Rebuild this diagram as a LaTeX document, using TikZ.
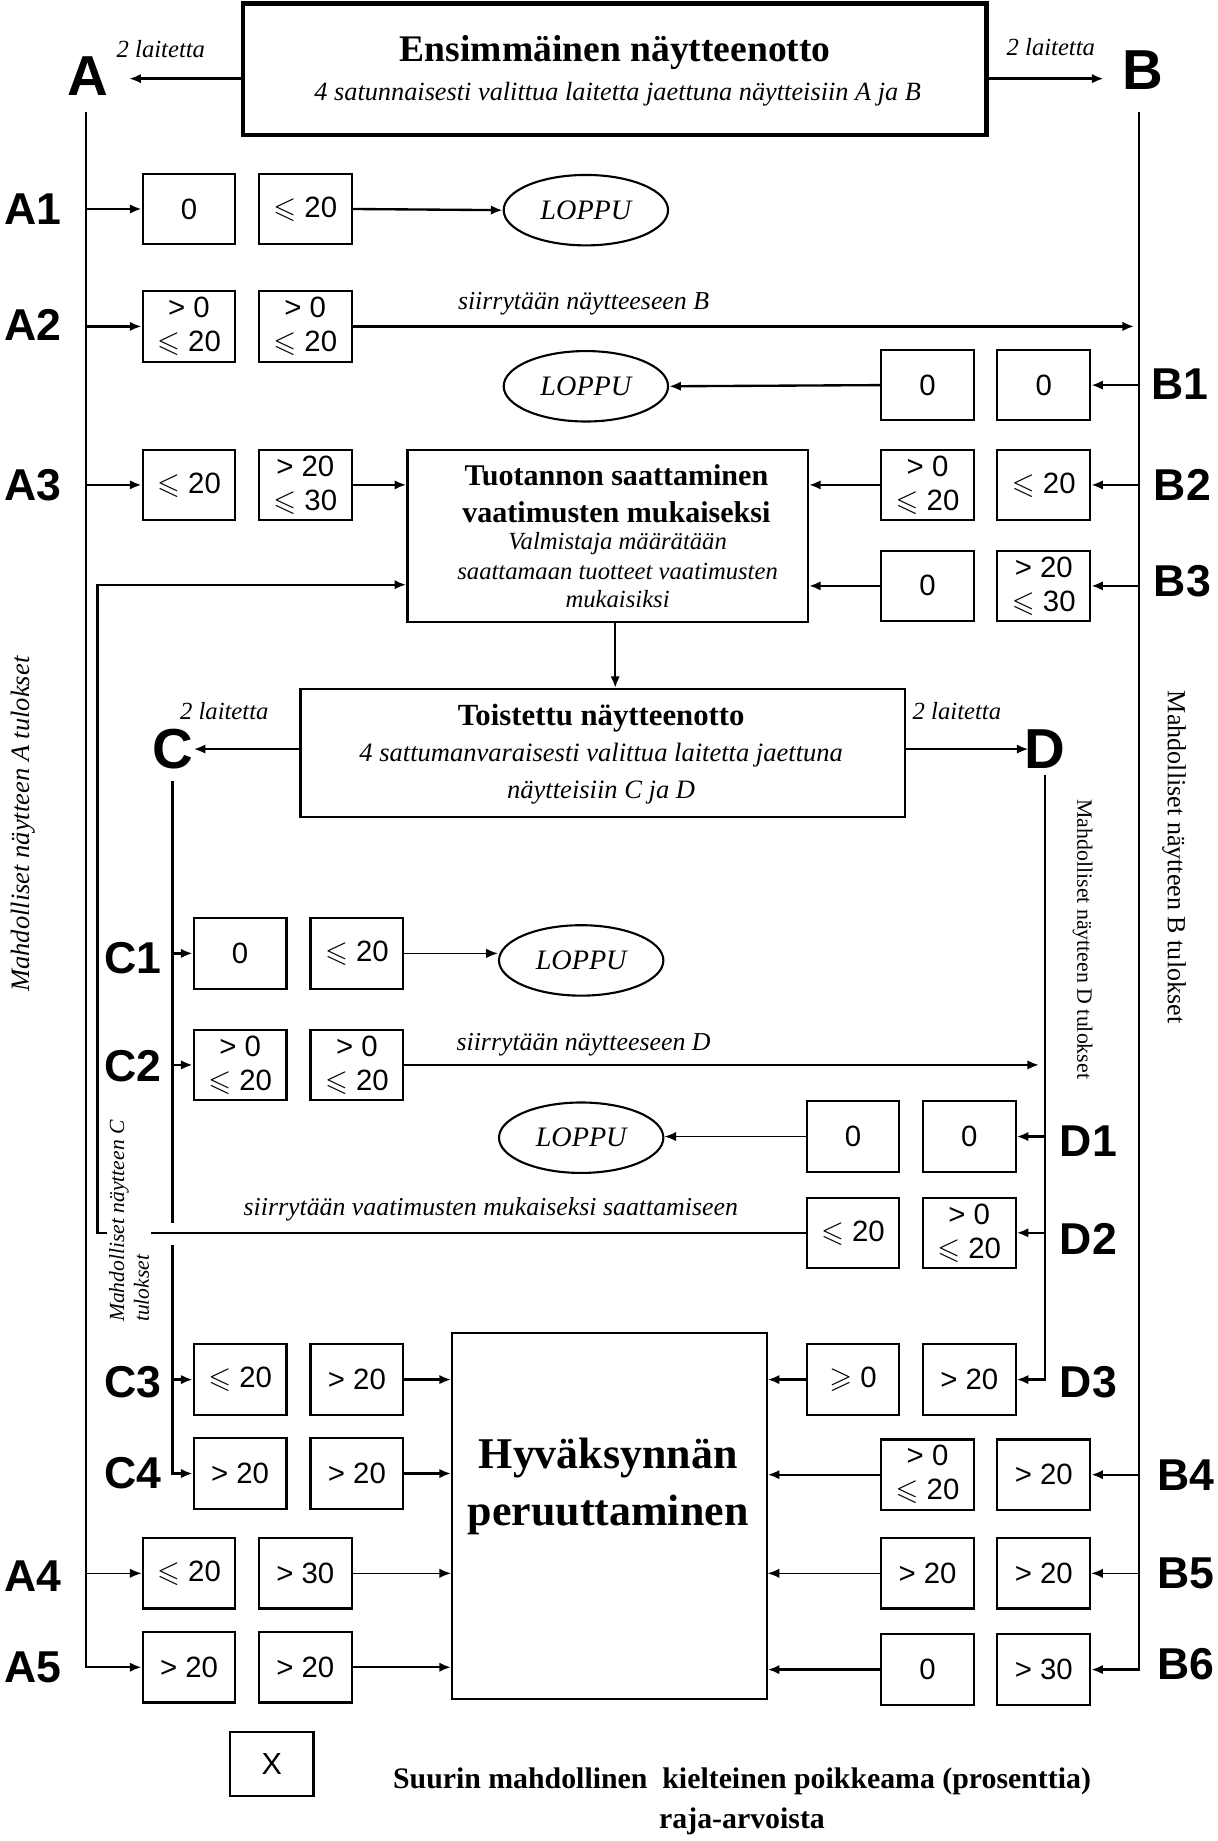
\documentclass[tikz,border=0pt]{standalone}
\usepackage{amssymb}
\usepackage{fontspec}
\setmainfont{Liberation Serif}
\newfontfamily\arialf{Liberation Sans}
\usetikzlibrary{arrows.meta,shapes.geometric}
\newcommand\myfs[1]{\fontsize{#1}{#1}\selectfont}
\newcommand\LEs{$\leqslant$}
\newcommand\GEs{$\geqslant$}
\tikzset{
 val/.style={draw, line width=0.9pt, minimum width=39.5pt, minimum height=30pt, inner sep=0pt, align=center, font=\arialf\fontsize{12.5}{14.5}\selectfont},
 rowlbl/.style={font=\arialf\bfseries\myfs{19}, inner sep=0pt},
 biglbl/.style={font=\arialf\bfseries\myfs{24}, inner sep=0pt},
 arr/.style={-{Latex[length=5pt,width=4pt]}, line width=1pt},
 thinarr/.style={-{Latex[length=5pt,width=4pt]}, line width=0.6pt},
 ln/.style={line width=1pt},
 loppu/.style={draw, ellipse, line width=0.9pt, minimum width=70pt, minimum height=30pt, inner sep=0pt, font=\itshape\myfs{12}},
 lait/.style={font=\itshape\myfs{10.5}, inner sep=0pt},
 movelbl/.style={font=\itshape\myfs{11}, inner sep=0pt},
 bigbox/.style={draw, line width=1pt, inner sep=0pt},
 txt/.style={inner sep=0pt},
}
\begin{document}
\begin{tikzpicture}[x=0.5pt,y=-0.5pt]
\useasboundingbox (0,0) rectangle (1037,1568);

% ---------- top box ----------
\node[bigbox, line width=2pt, minimum width=316.5pt, minimum height=56pt] (top) at (523.5,59) {};
\node[txt, font=\bfseries\myfs{16}] (toptitle) at (524,45) {Ensimmäinen näytteenotto};
\node[txt, font=\itshape\myfs{11.2}] (topsub) at (526,80) {4 satunnaisesti valittua laitetta jaettuna näytteisiin A ja B};
\node[biglbl] (A) at (75,65) {A};
\node[biglbl] (B) at (973,60) {B};
\node[lait] (laitA) at (137,42) {2 laitetta};
\node[lait] (laitB) at (895,40) {2 laitetta};
\coordinate (Aarr) at (110,67);
\coordinate (Barr) at (940,67);
\draw[arr] (top.west |- Aarr) -- (Aarr);
\draw[arr] (top.east |- Barr) -- (Barr);

% ---------- main vertical lines ----------
\coordinate (Atop) at (73,95);
\coordinate (Btop) at (970,95);

% ---------- A rows ----------
\node[val] (a1l) at (161,178) {0};
\node[val] (a1r) at (260,178) {\LEs{} 20};
\node[val] (a2l) at (161,278) {> 0\\\LEs{} 20};
\node[val] (a2r) at (260,278) {> 0\\\LEs{} 20};
\node[val] (a3l) at (161,413) {\LEs{} 20};
\node[val] (a3r) at (260,413) {> 20\\\LEs{} 30};
\node[val] (a4l) at (161,1340) {\LEs{} 20};
\node[val] (a4r) at (260,1340) {> 30};
\node[val] (a5l) at (161,1420) {> 20};
\node[val] (a5r) at (260,1420) {> 20};

% ---------- B rows ----------
\node[val] (b1l) at (790,328) {0};
\node[val] (b1r) at (889,328) {0};
\node[val] (b2l) at (790,413) {> 0\\\LEs{} 20};
\node[val] (b2r) at (889,413) {\LEs{} 20};
\node[val] (b3l) at (790,499) {0};
\node[val] (b3r) at (889,499) {> 20\\\LEs{} 30};
\node[val] (b4l) at (790,1256) {> 0\\\LEs{} 20};
\node[val] (b4r) at (889,1256) {> 20};
\node[val] (b5l) at (790,1340) {> 20};
\node[val] (b5r) at (889,1340) {> 20};
\node[val] (b6l) at (790,1422) {0};
\node[val] (b6r) at (889,1422) {> 30};

% ---------- C rows ----------
\node[val] (c1l) at (204.5,812) {0};
\node[val] (c1r) at (304,812) {\LEs{} 20};
\node[val] (c2l) at (204.5,907) {> 0\\\LEs{} 20};
\node[val] (c2r) at (304,907) {> 0\\\LEs{} 20};
\node[val] (c3l) at (204.5,1175) {\LEs{} 20};
\node[val] (c3r) at (304,1175) {> 20};
\node[val] (c4l) at (204.5,1255) {> 20};
\node[val] (c4r) at (304,1255) {> 20};

% ---------- D rows ----------
\node[val] (d1l) at (726.5,968) {0};
\node[val] (d1r) at (825.5,968) {0};
\node[val] (d2l) at (726.5,1050) {\LEs{} 20};
\node[val] (d2r) at (825.5,1050) {> 0\\\LEs{} 20};
\node[val] (d3l) at (726.5,1175) {\GEs{} 0};
\node[val] (d3r) at (825.5,1175) {> 20};

% ---------- row labels ----------
\node[rowlbl] (LA1) at (28,178) {A1};
\node[rowlbl] (LA2) at (28,277) {A2};
\node[rowlbl] (LA3) at (28,413) {A3};
\node[rowlbl] (LA4) at (28,1342) {A4};
\node[rowlbl] (LA5) at (28,1420) {A5};
\node[rowlbl] (LB1) at (1005,327) {B1};
\node[rowlbl] (LB2) at (1007,413) {B2};
\node[rowlbl] (LB3) at (1007,495) {B3};
\node[rowlbl] (LB4) at (1010,1256) {B4};
\node[rowlbl] (LB5) at (1010,1340) {B5};
\node[rowlbl] (LB6) at (1010,1417) {B6};
\node[rowlbl] (LC1) at (113,816) {C1};
\node[rowlbl] (LC2) at (113,908) {C2};
\node[rowlbl] (LC3) at (113,1177) {C3};
\node[rowlbl] (LC4) at (113,1255) {C4};
\node[rowlbl] (LD1) at (927,972) {D1};
\node[rowlbl] (LD2) at (927,1055) {D2};
\node[rowlbl] (LD3) at (927,1177) {D3};

% ---------- process boxes ----------
\node[bigbox, minimum width=170.5pt, minimum height=73.5pt] (tuot) at (517.5,456.5) {};
\node[txt, font=\bfseries\myfs{12.8}] (tuot1) at (525,405) {Tuotannon saattaminen};
\node[txt, font=\bfseries\myfs{12.8}] (tuot2) at (525,436) {vaatimusten mukaiseksi};
\node[txt, font=\itshape\myfs{10.5}] (tuot3) at (526,463) {Valmistaja määrätään};
\node[txt, font=\itshape\myfs{10.5}] (tuot4) at (526,487) {saattamaan tuotteet vaatimusten};
\node[txt, font=\itshape\myfs{10.5}] (tuot5) at (526,510) {mukaisiksi};

\node[bigbox, minimum width=257.5pt, minimum height=54.5pt] (tois) at (513.5,641.5) {};
\node[txt, font=\bfseries\myfs{13.1}] (tois1) at (512,612) {Toistettu näytteenotto};
\node[txt, font=\itshape\myfs{11.3}] (tois2) at (512,643) {4 sattumanvaraisesti valittua laitetta jaettuna};
\node[txt, font=\itshape\myfs{11.3}] (tois3) at (512,675) {näytteisiin C ja D};
\node[biglbl] (C) at (147,638) {C};
\node[biglbl] (D) at (890,638) {D};
\node[lait] (laitC) at (191,606) {2 laitetta};
\node[lait] (laitD) at (815,606) {2 laitetta};
\coordinate (Carr) at (165,638);
\coordinate (Darr) at (876,638);
\draw[arr] (tois.west |- Carr) -- (Carr);
\draw[arr] (tois.east |- Darr) -- (Darr);
\coordinate (tsx) at (524,0);
\draw[arr] (tuot.south -| tsx) -- (tois.north -| tsx);

\node[bigbox, line width=0.8pt, minimum width=134pt, minimum height=156pt] (hyv) at (519,1291) {};
\node[txt, font=\bfseries\fontsize{18.7}{24}\selectfont, align=center] (hyvt) at (518,1266) {Hyväksynnän\\peruuttaminen};

% ---------- LOPPU ellipses ----------
\node[loppu] (lp1) at (499,179) {LOPPU};
\node[loppu] (lp2) at (499,329) {LOPPU};
\node[loppu] (lp3) at (495,818) {LOPPU};
\node[loppu] (lp4) at (495,969) {LOPPU};

% ---------- connectors: A side ----------
\draw[arr] (Atop) |- (a5l.west);
\draw[arr] (Atop |- a1l.west) -- (a1l.west);
\draw[arr] (Atop |- a2l.west) -- (a2l.west);
\draw[arr] (Atop |- a3l.west) -- (a3l.west);
\draw[thinarr] (Atop |- a4l.west) -- (a4l.west);
\draw[arr] (a1r.east) -- (lp1.west);
\coordinate (a2end) at (966,278);
\draw[arr] (a2r.east) -- (a2end);
\node[movelbl, anchor=base] (mvB) at (497,264) {siirrytään näytteeseen B};
\draw[arr] (a3r.east) -- (tuot.west |- a3r.east);
\draw[thinarr] (a4r.east) -- (hyv.west |- a4r.east);
\draw[arr] (a5r.east) -- (hyv.west |- a5r.east);

% ---------- connectors: B side ----------
\draw[arr] (Btop) |- (b6r.east);
\draw[arr] (Btop |- b1r.east) -- (b1r.east);
\draw[arr] (Btop |- b2r.east) -- (b2r.east);
\draw[arr] (Btop |- b3r.east) -- (b3r.east);
\draw[arr] (Btop |- b4r.east) -- (b4r.east);
\draw[thinarr] (Btop |- b5r.east) -- (b5r.east);
\draw[arr] (b1l.west) -- (lp2.east);
\draw[arr] (b2l.west) -- (tuot.east |- b2l.west);
\draw[arr] (b3l.west) -- (tuot.east |- b3l.west);
\draw[arr] (b4l.west) -- (hyv.east |- b4l.west);
\draw[thinarr] (b5l.west) -- (hyv.east |- b5l.west);
\draw[arr] (b6l.west) -- (hyv.east |- b6l.west);

% ---------- feedback loop ----------
\coordinate (fbA) at (83,1050);
\coordinate (fbB) at (83,498);
\draw[arr] (d2l.west) -- (fbA) -- (fbB) -- (tuot.west |- fbB);
\node[movelbl, anchor=base] (mvT) at (418,1035) {siirrytään vaatimusten mukaiseksi saattamiseen};

% ---------- C side ----------
\coordinate (Ctop) at (147,665);
\coordinate (Cgap1) at (147,1042);
\coordinate (Cgap2) at (147,1060);
\draw[ln] (Ctop) -- (Cgap1);
\draw[arr] (Cgap2) |- (c4l.west);
\draw[arr] (Ctop |- c1l.west) -- (c1l.west);
\draw[arr] (Ctop |- c2l.west) -- (c2l.west);
\draw[arr] (Cgap2 |- c3l.west) -- (c3l.west);
\draw[thinarr] (c1r.east) -- (c1r.east -| lp3.west);
\coordinate (c2end) at (885,907);
\draw[arr] (c2r.east) -- (c2end);
\node[movelbl, anchor=base] (mvD) at (497,895) {siirrytään näytteeseen D};
\draw[arr] (c3r.east) -- (hyv.west |- c3r.east);
\draw[arr] (c4r.east) -- (hyv.west |- c4r.east);

% ---------- D side ----------
\coordinate (Dtop) at (890,660);
\draw[arr] (Dtop) |- (d3r.east);
\draw[arr] (Dtop |- d1r.east) -- (d1r.east);
\draw[arr] (Dtop |- d2r.east) -- (d2r.east);
\draw[thinarr] (d1l.west) -- (d1l.west -| lp4.east);
\draw[arr] (d3l.west) -- (hyv.east |- d3l.west);

% ---------- rotated side texts ----------
\node[rotate=90, txt, font=\itshape\myfs{11.3}] (vA) at (20,702) {Mahdolliset näytteen A tulokset};
\node[rotate=-90, txt, font=\myfs{11.1}] (vB) at (1000,730) {Mahdolliset näytteen B tulokset};
\node[rotate=-90, txt, font=\myfs{9.3}] (vD) at (922,800) {Mahdolliset näytteen D tulokset};
\node[rotate=90, font=\itshape\fontsize{9.2}{10.5}\selectfont, align=left, fill=white, inner sep=1pt] (vC) at (110,1040) {Mahdolliset näytteen C\\tulokset};

% ---------- legend ----------
\node[draw, line width=0.9pt, minimum width=35.5pt, minimum height=27.5pt, font=\arialf\myfs{13}] (xbox) at (231.5,1502.5) {X};
\node[txt, font=\bfseries\fontsize{12.7}{17}\selectfont, align=center] (legend) at (632,1534) {Suurin mahdollinen\ \ kielteinen poikkeama (prosenttia)\\raja-arvoista};
\end{tikzpicture}
\end{document}
